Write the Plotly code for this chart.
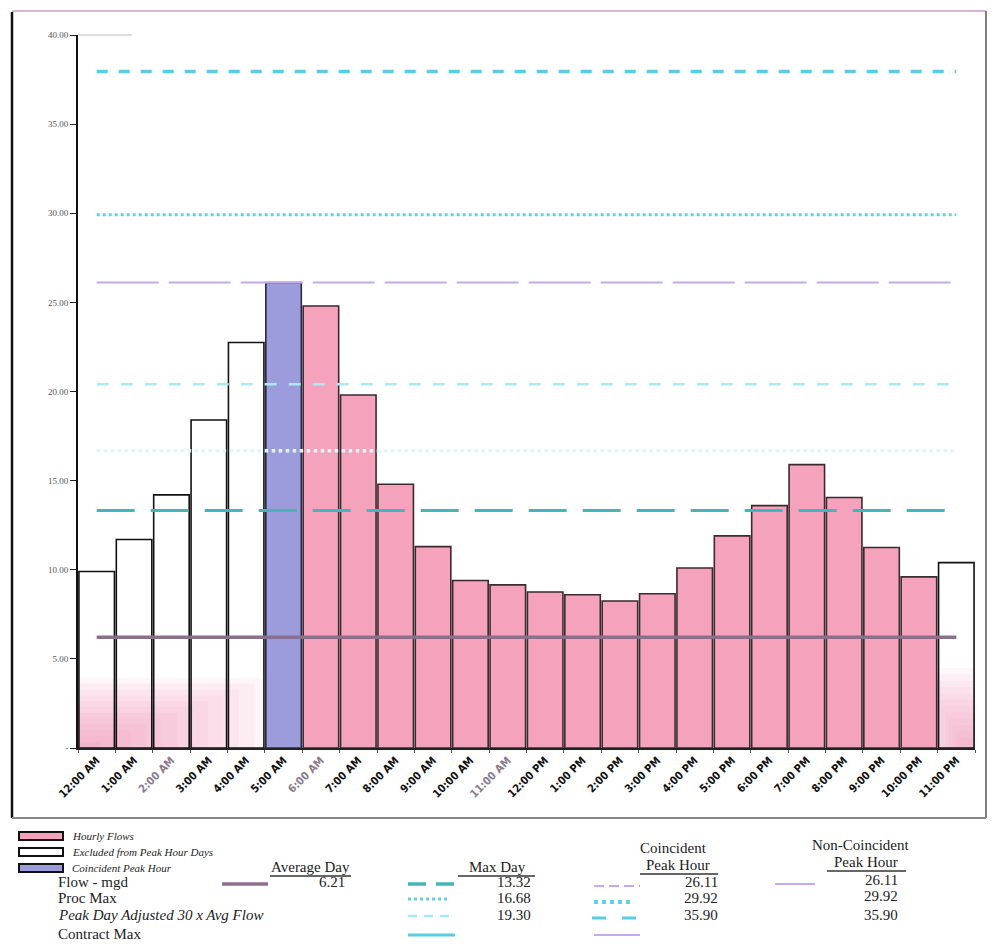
import plotly.graph_objects as go

# ---- data -------------------------------------------------------------
hours = ["12:00 AM", "1:00 AM", "2:00 AM", "3:00 AM", "4:00 AM", "5:00 AM",
         "6:00 AM", "7:00 AM", "8:00 AM", "9:00 AM", "10:00 AM", "11:00 AM",
         "12:00 PM", "1:00 PM", "2:00 PM", "3:00 PM", "4:00 PM", "5:00 PM",
         "6:00 PM", "7:00 PM", "8:00 PM", "9:00 PM", "10:00 PM", "11:00 PM"]
hourly_flow = [9.90, 11.70, 14.20, 18.40, 22.75, 26.11, 24.80, 19.80,
               14.80, 11.30, 9.40, 9.15, 8.75, 8.60, 8.25, 8.65,
               10.10, 11.90, 13.60, 15.90, 14.05, 11.25, 9.60, 10.40]
hour_class = ["excluded", "excluded", "excluded", "excluded", "excluded", "peak",
              "hourly", "hourly", "hourly", "hourly", "hourly", "hourly",
              "hourly", "hourly", "hourly", "hourly", "hourly", "hourly",
              "hourly", "hourly", "hourly", "hourly", "hourly", "excluded"]

average_day = 6.21
max_day = [13.32, 16.68, 19.30]
coincident_peak = [26.11, 29.92, 35.90]
noncoincident_peak = [26.11, 29.92, 35.90]
# horizontal guide levels drawn across the plot
guide_levels = [13.32, 16.68, 20.40, 26.11, 29.92, 37.95]

y_ticks = [0, 5, 10, 15, 20, 25, 30, 35, 40]
y_tick_text = ["-", "5.00", "10.00", "15.00", "20.00", "25.00", "30.00", "35.00", "40.00"]

# ---- styling ----------------------------------------------------------
PINK = "#f5a3bd"
WASH = "#f790b6"
PEAK = "#9c9cdc"
SERIF = "Liberation Serif, Times New Roman, serif"

W, H = 993, 946
L, R, T, B = 78, 18, 35, 198
PW, PH = W - L - R, H - T - B


def px(x):
    return (x - L) / PW


def py(y):
    return (H - B - y) / PH


def note(x, y, text, anchor="left", size=15, color="#222"):
    return dict(x=px(x), y=py(y), xref="paper", yref="paper", text=text, showarrow=False,
                xanchor=anchor, yanchor="middle", font=dict(family=SERIF, size=size, color=color))


fig = go.Figure()

groups = [("hourly", PINK, "#3a2a30"), ("excluded", "rgba(255,255,255,0)", "#111111"),
          ("peak", PEAK, "#2a2a40")]
for cls, fill, edge in groups:
    xs = [h for h, c in zip(hours, hour_class) if c == cls]
    ys = [v for v, c in zip(hourly_flow, hour_class) if c == cls]
    fig.add_trace(go.Bar(x=xs, y=ys, marker=dict(color=fill, line=dict(color=edge, width=1.6)),
                         showlegend=False, hoverinfo="x+y"))

# guide lines
line_styles = [
    dict(color="#45b5b5", width=3, dash="38px,16px"),
    dict(color="#e2f6f8", width=3.5, dash="dot"),
    dict(color="#a9ebf0", width=2.5, dash="12px,12px"),
    dict(color="#c8a9ef", width=2, dash="62px,10px"),
    dict(color="#62d0e8", width=3, dash="dot"),
    dict(color="#55cde8", width=3.5, dash="11px,11px"),
]
for lvl, st in zip(guide_levels, line_styles):
    fig.add_trace(go.Scatter(x=hours, y=[lvl] * len(hours), mode="lines",
                             line=st, showlegend=False, hoverinfo="y"))

fig.add_trace(go.Scatter(x=hours, y=[average_day] * len(hours), mode="lines",
                         line=dict(color="#8c6e8e", width=3.5), showlegend=False, hoverinfo="y"))

shapes = []
annotations = []

# soft pink wash near the floor of the plot (graded in thin steps)
steps = 12
for i in range(steps):
    f = i / (steps - 1)
    shapes.append(dict(type="rect", xref="paper", yref="paper", x0=px(78), x1=px(270 - 170 * f),
                       y0=py(748), y1=py(678 + 64 * f), fillcolor=WASH, opacity=0.08,
                       line_width=0, layer="below"))
    shapes.append(dict(type="rect", xref="paper", yref="paper", x0=px(920 + 40 * f), x1=px(975),
                       y0=py(748), y1=py(668 + 70 * f), fillcolor=WASH, opacity=0.07,
                       line_width=0, layer="below"))

# outer frame
shapes += [
    dict(type="line", xref="paper", yref="paper", x0=px(12), x1=px(12), y0=py(12), y1=py(818),
         line=dict(color="#111", width=2.5)),
    dict(type="line", xref="paper", yref="paper", x0=px(12), x1=px(986), y0=py(11), y1=py(11),
         line=dict(color="#c9a0c8", width=1.5)),
    dict(type="line", xref="paper", yref="paper", x0=px(986), x1=px(986), y0=py(11), y1=py(818),
         line=dict(color="#555", width=1.5)),
    dict(type="line", xref="paper", yref="paper", x0=px(12), x1=px(986), y0=py(818), y1=py(818),
         line=dict(color="#888", width=2)),
    dict(type="line", xref="paper", yref="paper", x0=0, x1=0.06, y0=1, y1=1,
         line=dict(color="#bbbbbb", width=1)),
]

# ---- legend block -----------------------------------------------------
swatches = [(836, PINK, "Hourly Flows"), (852, "white", "Excluded from Peak Hour Days"),
            (868, PEAK, "Coincident Peak Hour")]
for yy, col, label in swatches:
    shapes.append(dict(type="rect", xref="paper", yref="paper", x0=px(19), x1=px(63),
                       y0=py(yy - 4), y1=py(yy + 4), fillcolor=col, line=dict(color="#111", width=2)))
    annotations.append(note(70, yy, "<i>" + label + "</i>", size=11))

headers = [(310, 867, "Average Day", 270, 351, 876),
           (497, 867, "Max Day", 458, 535, 876),
           (678, 865, "Peak Hour", 640, 718, 874),
           (866, 862, "Peak Hour", 827, 906, 871)]
for cx, cy, text, u0, u1, uy in headers:
    annotations.append(note(cx, cy, text, anchor="center"))
    shapes.append(dict(type="line", xref="paper", yref="paper", x0=px(u0), x1=px(u1),
                       y0=py(uy), y1=py(uy), line=dict(color="#333", width=1.5)))
annotations.append(note(673, 848, "Coincident", anchor="center"))
annotations.append(note(860, 845, "Non-Coincident", anchor="center"))

rows = [(882, "Flow - mgd"), (898, "Proc Max"), (915, "<i>Peak Day Adjusted 30 x Avg Flow</i>"),
        (934, "Contract Max")]
for yy, label in rows:
    annotations.append(note(56, yy, label))

# legend line samples
samples = [
    (222, 268, 884, dict(color="#8c6e8e", width=3.5)),
    (408, 455, 884, dict(color="#45b5b5", width=3.5, dash="18px,10px")),
    (408, 450, 899, dict(color="#62d0e8", width=3, dash="dot")),
    (408, 455, 916, dict(color="#a9ebf0", width=2.5, dash="9px,7px")),
    (408, 455, 935, dict(color="#55cde8", width=3)),
    (594, 640, 886, dict(color="#c8a9ef", width=2, dash="10px,5px")),
    (594, 634, 902, dict(color="#62d0e8", width=4, dash="dot")),
    (592, 640, 918, dict(color="#55cde8", width=3, dash="14px,16px")),
    (594, 640, 935, dict(color="#c8a9ef", width=2)),
    (775, 815, 884, dict(color="#c8a9ef", width=2)),
]
for x0, x1, yy, ln in samples:
    shapes.append(dict(type="line", xref="paper", yref="paper", x0=px(x0), x1=px(x1),
                       y0=py(yy), y1=py(yy), line=ln))

value_cols = [(347, [average_day], [882]),
              (533, max_day, [882, 898, 915]),
              (720, coincident_peak, [882, 898, 915]),
              (900, noncoincident_peak, [880, 896, 915])]
for xr, vals, ys in value_cols:
    for v, yy in zip(vals, ys):
        annotations.append(note(xr, yy, f"{v:.2f}", anchor="right"))

# x tick labels, a few printed lighter
light = {"2:00 AM", "6:00 AM", "11:00 AM"}
tick_text = [f"<b><span style='color:#8a7a8c'>{h}</span></b>" if h in light else f"<b>{h}</b>"
             for h in hours]

fig.update_layout(
    width=W, height=H,
    margin=dict(l=L, r=R, t=T, b=B),
    paper_bgcolor="white", plot_bgcolor="white",
    barmode="overlay", bargap=0.05,
    showlegend=False,
    shapes=shapes, annotations=annotations,
    xaxis=dict(type="category", categoryorder="array", categoryarray=hours,
               tickmode="array", tickvals=hours, ticktext=tick_text, tickangle=-45,
               tickfont=dict(family="DejaVu Sans Condensed, DejaVu Sans, sans-serif", size=11, color="#111"),
               showline=True, linecolor="#222", linewidth=1.5, showgrid=False,
               ticks="outside", ticklen=3, tickcolor="#555", tickson="boundaries",
               range=[-0.5, 23.5]),
    yaxis=dict(range=[0, 40], tickmode="array", tickvals=y_ticks, ticktext=y_tick_text,
               tickfont=dict(family=SERIF, size=9, color="#555"),
               showline=True, linecolor="#111", linewidth=2, showgrid=False, zeroline=False,
               ticks="outside", ticklen=6, tickcolor="#222"),
)

fig.write_html("out.html")
